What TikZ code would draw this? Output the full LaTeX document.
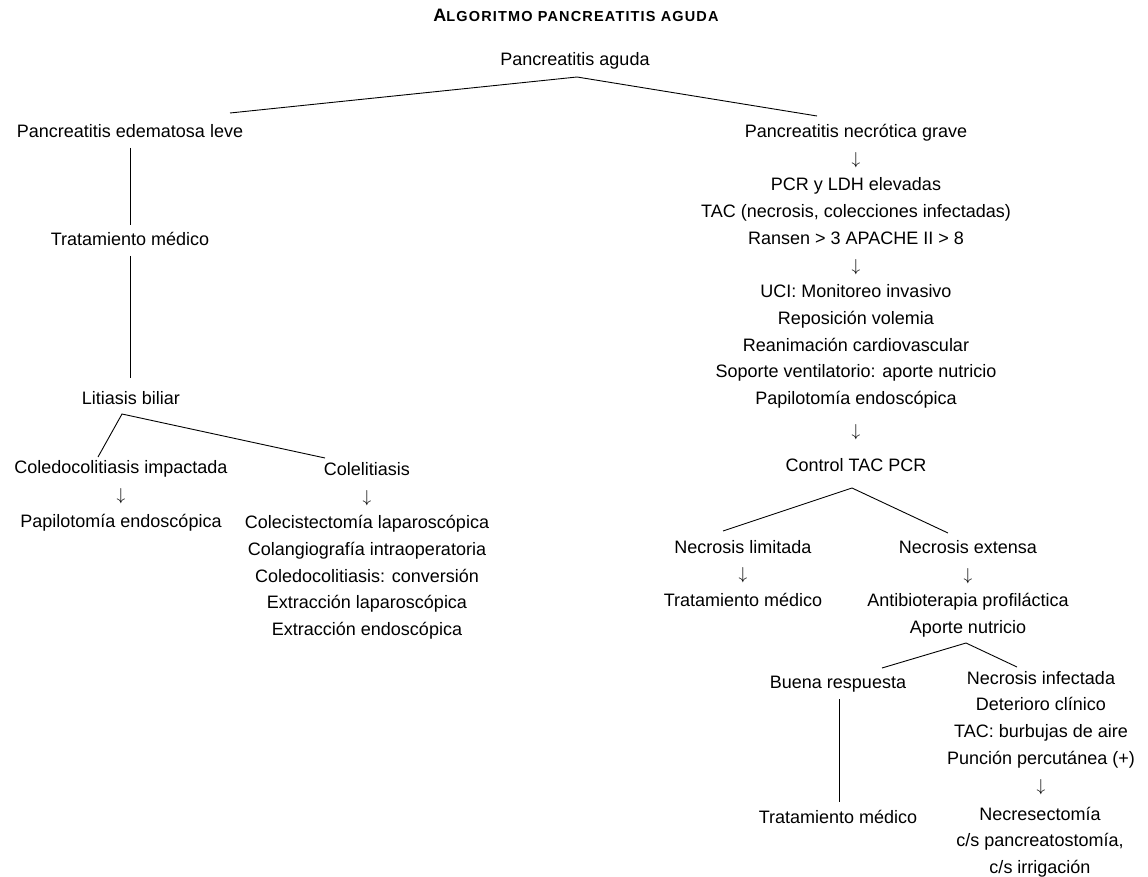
\documentclass[tikz,border=0pt]{standalone}
\usepackage{fontspec}
\setmainfont{Liberation Sans}
\newfontfamily\titlefont[LetterSpace=8]{Liberation Sans}
\newcommand\darr{{\fontsize{17}{17}\selectfont$\downarrow$}}
\begin{document}
\begin{tikzpicture}[x=1pt,y=-1pt,
  txt/.style={inner sep=0pt,anchor=base,align=center,font=\fontsize{18}{26.7}\selectfont},
  conn/.style={draw=black,line width=0.9pt}]
\useasboundingbox (0,0) rectangle (1148,877);
% title
\node[inner sep=0pt,anchor=base] (title) at (576,22)
  {\titlefont\bfseries\fontsize{18}{20}\selectfont A\fontsize{14.5}{16}\selectfont LGORITMO PANCREATITIS AGUDA};
\node[txt] (pa) at (575,66) {Pancreatitis aguda};
% left branch
\node[txt] (pel) at (130,138) {Pancreatitis edematosa leve};
\node[txt] (tm1) at (130,246) {Tratamiento médico};
\node[txt] (lb) at (131,404) {Litiasis biliar};
\node[txt] (ci) at (121,527) {Coledocolitiasis impactada\\\darr\\Papilotomía endoscópica};
\node[txt] (col) at (367,635.5) {Colelitiasis\\\darr\\Colecistectomía laparoscópica\\Colangiografía intraoperatoria\\Coledocolitiasis: conversión\\Extracción laparoscópica\\Extracción endoscópica};
% right branch
\node[txt] (png) at (856,404.5) {Pancreatitis necrótica grave\\\darr\\PCR y LDH elevadas\\TAC (necrosis, colecciones infectadas)\\Ransen > 3 APACHE II > 8\\\darr\\UCI: Monitoreo invasivo\\Reposición volemia\\Reanimación cardiovascular\\Soporte ventilatorio: aporte nutricio\\Papilotomía endoscópica};
\node[txt] (ar1) at (856,436) {\darr};
\node[txt] (ctp) at (856,471) {Control TAC PCR};
\node[txt] (nl) at (743,606.5) {Necrosis limitada\\\darr\\Tratamiento médico};
\node[txt] (ne) at (968,633.5) {Necrosis extensa\\\darr\\Antibioterapia profiláctica\\Aporte nutricio};
\node[txt] (br) at (838,688) {Buena respuesta};
\node[txt] (tm2) at (838,823) {Tratamiento médico};
\node[txt] (ni) at (1041,791) {Necrosis infectada\\Deterioro clínico\\TAC: burbujas de aire\\Punción percutánea (+)\\\darr};
\node[txt] (nec) at (1040,873.5) {Necresectomía\\c/s pancreatostomía,\\c/s irrigación};
% connector points
\coordinate (a0) at (577,77);
\coordinate (a0l) at (230,113);
\coordinate (a0r) at (817,116);
\coordinate (v1a) at (130,148);
\coordinate (v1b) at (130,225);
\coordinate (v2a) at (130,256);
\coordinate (v2b) at (130,378);
\coordinate (a1) at (122,414);
\coordinate (a1l) at (98,457);
\coordinate (a1r) at (325,458);
\coordinate (a2) at (852,488);
\coordinate (a2l) at (723,531);
\coordinate (a2r) at (948,533);
\coordinate (a3) at (966,643);
\coordinate (a3l) at (882,668);
\coordinate (a3r) at (1017,667);
\coordinate (v3a) at (839,699);
\coordinate (v3b) at (839,802);
\draw[conn] (a0l) -- (a0) -- (a0r);
\draw[conn] (v1a) -- (v1b);
\draw[conn] (v2a) -- (v2b);
\draw[conn] (a1l) -- (a1) -- (a1r);
\draw[conn] (a2l) -- (a2) -- (a2r);
\draw[conn] (a3l) -- (a3) -- (a3r);
\draw[conn] (v3a) -- (v3b);
\end{tikzpicture}
\end{document}
